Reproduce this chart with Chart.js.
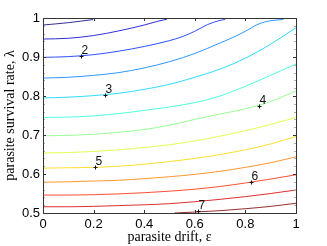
<!DOCTYPE html>
<html>
<head>
<meta charset="utf-8">
<script src="https://cdn.jsdelivr.net/npm/chart.js@4.4.1/dist/chart.umd.min.js"></script>
<style>
  html, body { margin: 0; padding: 0; background: #fff; }
  #wrap { width: 327px; height: 246px; }
</style>
</head>
<body>
<div id="wrap"><canvas id="chart" width="327" height="246"></canvas></div>
<script>
// contour levels, one line each
const levels = [1, 1.5, 2, 2.5, 3, 3.5, 4, 4.5, 5, 5.5, 6, 6.5, 7];

// shared drift grid for the lines that cross the whole plot
const epsGrid = [0, 0.1, 0.2, 0.3, 0.4, 0.5, 0.6, 0.7, 0.8, 0.9, 1];

// lines that run out through the top edge
const eps1 = [0, 0.1, 0.198];
const lam1 = [0.982, 0.988, 0.996];
const eps15 = [0, 0.1, 0.2, 0.3, 0.4, 0.45, 0.49];
const lam15 = [0.946, 0.948, 0.955, 0.967, 0.982, 0.991, 0.997];
const eps2 = [0, 0.1, 0.2, 0.3, 0.4, 0.5, 0.55, 0.6, 0.65, 0.7, 0.72];
const lam2 = [0.899, 0.901, 0.906, 0.915, 0.927, 0.942, 0.952, 0.966, 0.983, 0.994, 0.996];
const eps25 = [0, 0.1, 0.2, 0.3, 0.4, 0.5, 0.6, 0.7, 0.75, 0.8, 0.85, 0.9, 0.95];
const lam25 = [0.846, 0.848, 0.853, 0.860, 0.872, 0.888, 0.909, 0.936, 0.950, 0.966, 0.984, 0.993, 0.996];

// lines on the shared grid
const lam3 = [0.795, 0.797, 0.801, 0.807, 0.817, 0.830, 0.848, 0.869, 0.897, 0.933, 0.975];
const lam35 = [0.745, 0.746, 0.749, 0.755, 0.763, 0.772, 0.783, 0.800, 0.825, 0.853, 0.882];
const lam4 = [0.698, 0.699, 0.702, 0.707, 0.714, 0.725, 0.740, 0.754, 0.767, 0.786, 0.813];
const lam45 = [0.654, 0.655, 0.658, 0.662, 0.668, 0.675, 0.685, 0.697, 0.711, 0.727, 0.745];
const lam5 = [0.615, 0.616, 0.617, 0.620, 0.625, 0.632, 0.640, 0.650, 0.662, 0.677, 0.696];
const lam55 = [0.579, 0.580, 0.582, 0.584, 0.588, 0.593, 0.599, 0.607, 0.617, 0.629, 0.644];
const lam6 = [0.546, 0.546, 0.547, 0.549, 0.552, 0.556, 0.561, 0.568, 0.577, 0.587, 0.598];
const lam65 = [0.516, 0.516, 0.517, 0.519, 0.521, 0.524, 0.529, 0.535, 0.542, 0.550, 0.559];

// last line starts on the bottom edge
const eps7 = [0.52, 0.6, 0.7, 0.8, 0.9, 1];
const lam7 = [0.5, 0.5025, 0.506, 0.511, 0.517, 0.525];

// contour labels (clabel style)
const labelText = ['2', '3', '4', '5', '6', '7'];
const labelEps = [0.151, 0.244, 0.855, 0.204, 0.821, 0.613];
const labelLam = [0.902, 0.803, 0.775, 0.617, 0.579, 0.504];

// axis ticks
const xTicks = [0, 0.2, 0.4, 0.6, 0.8, 1];
const xTickLabels = ['0', '0.2', '0.4', '0.6', '0.8', '1'];
const yTicks = [0.5, 0.6, 0.7, 0.8, 0.9, 1];
const yTickLabels = ['0.5', '0.6', '0.7', '0.8', '0.9', '1'];

const lineXs = [eps1, eps15, eps2, eps25, epsGrid, epsGrid, epsGrid, epsGrid, epsGrid, epsGrid, epsGrid, epsGrid, eps7];
const lineYs = [lam1, lam15, lam2, lam25, lam3, lam35, lam4, lam45, lam5, lam55, lam6, lam65, lam7];

// matlab jet colormap, slightly washed out like the thin antialiased lines
function jet(t) {
  const c = v => Math.round(255 * Math.max(0, Math.min(1, v)));
  const r = c(1.5 - Math.abs(4 * t - 3));
  const g = c(1.5 - Math.abs(4 * t - 2));
  const b = c(1.5 - Math.abs(4 * t - 1));
  return `rgba(${r},${g},${b},0.82)`;
}

const lo = levels[0], hi = levels[levels.length - 1];
const datasets = levels.map((lev, i) => ({
  label: String(lev),
  data: lineXs[i].map((x, j) => ({ x: x, y: lineYs[i][j] })),
  borderColor: jet((lev - lo) / (hi - lo)),
  borderWidth: 1,
  pointRadius: 0,
  fill: false,
  cubicInterpolationMode: 'monotone'
}));

const sans = '"Liberation Sans", Arial, Helvetica, sans-serif';
const serif = '"Liberation Serif", "Times New Roman", serif';

// box, inward ticks and contour labels
const matlabAxes = {
  id: 'matlabAxes',
  afterDatasetsDraw(chart) {
    const { ctx, chartArea: a, scales: { x, y } } = chart;
    ctx.save();
    ctx.lineWidth = 1;

    // faint minor ticks on the y sides
    ctx.strokeStyle = '#b0b0b0';
    ctx.beginPath();
    for (let v = 0.52; v < 1; v += 0.02) {
      const py = Math.round(y.getPixelForValue(v)) + 0.5;
      ctx.moveTo(a.left, py); ctx.lineTo(a.left + 2, py);
      ctx.moveTo(a.right, py); ctx.lineTo(a.right - 2, py);
    }
    ctx.stroke();

    ctx.strokeStyle = '#333';
    ctx.beginPath();
    xTicks.forEach(v => {
      const px = Math.round(x.getPixelForValue(v)) + 0.5;
      ctx.moveTo(px, a.bottom); ctx.lineTo(px, a.bottom - 3);
      ctx.moveTo(px, a.top); ctx.lineTo(px, a.top + 3);
    });
    yTicks.forEach(v => {
      const py = Math.round(y.getPixelForValue(v)) + 0.5;
      ctx.moveTo(a.left, py); ctx.lineTo(a.left + 3, py);
      ctx.moveTo(a.right, py); ctx.lineTo(a.right - 3, py);
    });
    ctx.stroke();

    ctx.strokeStyle = '#333';
    ctx.strokeRect(Math.round(a.left) + 0.5, Math.round(a.top) + 0.5,
      Math.round(a.right - a.left), Math.round(a.bottom - a.top));

    // contour labels
    ctx.fillStyle = '#111';
    ctx.strokeStyle = '#111';
    ctx.font = '12px ' + sans;
    ctx.textAlign = 'left';
    ctx.textBaseline = 'alphabetic';
    labelText.forEach((t, i) => {
      const px = Math.round(x.getPixelForValue(labelEps[i])) + 0.5;
      const py = Math.round(y.getPixelForValue(labelLam[i])) + 0.5;
      ctx.beginPath();
      ctx.moveTo(px - 2, py); ctx.lineTo(px + 2, py);
      ctx.moveTo(px, py - 2); ctx.lineTo(px, py + 2);
      ctx.stroke();
      ctx.fillText(t, px, py - 2.5);
    });
    ctx.restore();
  }
};

new Chart(document.getElementById('chart'), {
  type: 'line',
  data: { datasets: datasets },
  options: {
    responsive: false,
    animation: false,
    devicePixelRatio: 1,
    layout: { padding: { top: 18, right: 31, left: 0, bottom: 0 } },
    plugins: { legend: { display: false }, tooltip: { enabled: false } },
    scales: {
      x: {
        type: 'linear',
        min: 0,
        max: 1,
        afterBuildTicks: s => { s.ticks = xTicks.map(v => ({ value: v })); },
        afterFit: s => { s.height = 33; },
        grid: { drawOnChartArea: false, drawTicks: false },
        border: { display: false },
        ticks: {
          padding: 4,
          maxRotation: 0,
          color: '#000',
          font: { family: sans, size: 13 },
          callback: (v, i) => xTickLabels[i]
        },
        title: {
          display: true,
          text: 'parasite drift, ε',
          color: '#000',
          font: { family: serif, size: 14 },
          padding: { top: 0, bottom: 0 }
        }
      },
      y: {
        type: 'linear',
        min: 0.5,
        max: 1,
        afterBuildTicks: s => { s.ticks = yTicks.map(v => ({ value: v })); },
        afterFit: s => { s.width = 43; },
        grid: { drawOnChartArea: false, drawTicks: false },
        border: { display: false },
        ticks: {
          padding: 3,
          color: '#000',
          font: { family: sans, size: 13 },
          callback: (v, i) => yTickLabels[i]
        },
        title: {
          display: true,
          text: 'parasite survival rate, λ',
          color: '#000',
          font: { family: serif, size: 14 },
          padding: { top: 2, bottom: 0 }
        }
      }
    }
  },
  plugins: [matlabAxes]
});
</script>
</body>
</html>
